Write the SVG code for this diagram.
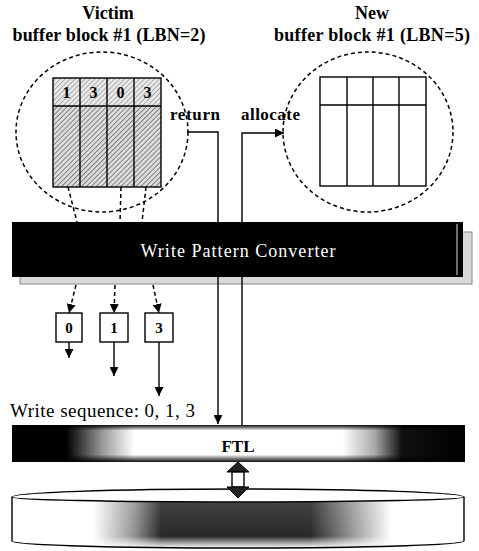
<svg xmlns="http://www.w3.org/2000/svg" width="479" height="551" viewBox="0 0 479 551">
<style>
.t{font-family:"Liberation Serif","Times New Roman",serif;fill:#000}
.b{font-weight:bold}
.dash{fill:none;stroke:#000;stroke-width:1.5;stroke-dasharray:4 3}
.ln{fill:none;stroke:#000;stroke-width:1.4}
.cell{fill:none;stroke:#000;stroke-width:1.4}
</style>
<defs>
<marker id="ah" viewBox="0 0 10 10" refX="10" refY="5" markerWidth="9" markerHeight="9" orient="auto" markerUnits="userSpaceOnUse">
<path d="M0,0 L10,5 L0,10 z" fill="#000"/>
</marker>
<pattern id="hatch" width="3.5" height="3.5" patternUnits="userSpaceOnUse" patternTransform="rotate(45)">
<rect width="3.5" height="3.5" fill="#dcdcdc"/>
<line x1="0" y1="0" x2="0" y2="3.5" stroke="#555" stroke-width="1.3"/>
</pattern>
<pattern id="hatch2" width="3.5" height="3.5" patternUnits="userSpaceOnUse" patternTransform="rotate(45)">
<rect width="3.5" height="3.5" fill="#e8e8e8"/>
<line x1="0" y1="0" x2="0" y2="3.5" stroke="#777" stroke-width="1"/>
</pattern>
<linearGradient id="ftlg" x1="0" y1="0" x2="1" y2="0">
<stop offset="0" stop-color="#000"/>
<stop offset="0.12" stop-color="#000"/>
<stop offset="0.2" stop-color="#999"/>
<stop offset="0.27" stop-color="#fff"/>
<stop offset="0.73" stop-color="#fff"/>
<stop offset="0.8" stop-color="#aaa"/>
<stop offset="0.86" stop-color="#111"/>
<stop offset="1" stop-color="#000"/>
</linearGradient>
<linearGradient id="ftlv" x1="0" y1="0" x2="0" y2="1">
<stop offset="0" stop-color="#000" stop-opacity="0.95"/>
<stop offset="0.15" stop-color="#000" stop-opacity="0"/>
<stop offset="0.8" stop-color="#000" stop-opacity="0"/>
<stop offset="1" stop-color="#000" stop-opacity="0.95"/>
</linearGradient>
<linearGradient id="diskg" x1="0" y1="0" x2="1" y2="0">
<stop offset="0" stop-color="#fff"/>
<stop offset="0.18" stop-color="#fff"/>
<stop offset="0.27" stop-color="#888"/>
<stop offset="0.33" stop-color="#111"/>
<stop offset="0.66" stop-color="#111"/>
<stop offset="0.75" stop-color="#888"/>
<stop offset="0.84" stop-color="#fff"/>
<stop offset="1" stop-color="#fff"/>
</linearGradient>
<linearGradient id="diskv" x1="0" y1="0" x2="0" y2="1">
<stop offset="0" stop-color="#fff" stop-opacity="1"/>
<stop offset="0.25" stop-color="#fff" stop-opacity="0.2"/>
<stop offset="0.8" stop-color="#fff" stop-opacity="0.1"/>
<stop offset="1" stop-color="#fff" stop-opacity="1"/>
</linearGradient>
</defs>
<rect width="479" height="551" fill="#fff"/>

<g id="title-victim">
<text class="t b" x="108" y="19" font-size="18" text-anchor="middle">Victim</text>
<text class="t b" x="109" y="41" font-size="18" text-anchor="middle" textLength="193">buffer block #1 (LBN=2)</text>
</g>
<g id="title-new">
<text class="t b" x="372" y="19" font-size="18" text-anchor="middle">New</text>
<text class="t b" x="372" y="41" font-size="18" text-anchor="middle" textLength="196">buffer block #1 (LBN=5)</text>
</g>

<g id="victim-block">
<ellipse class="dash" cx="102" cy="132" rx="86" ry="80"/>
<rect x="53" y="78" width="108" height="28" fill="url(#hatch2)"/>
<rect x="53" y="106" width="108" height="81" fill="url(#hatch)"/>
<rect class="cell" x="53" y="78" width="108" height="109"/>
<line class="cell" x1="53" y1="106" x2="161" y2="106"/>
<line class="cell" x1="80" y1="78" x2="80" y2="187"/>
<line class="cell" x1="107" y1="78" x2="107" y2="187"/>
<line class="cell" x1="134" y1="78" x2="134" y2="187"/>
<text class="t b" x="66.5" y="98" font-size="16" text-anchor="middle">1</text>
<text class="t b" x="93.5" y="98" font-size="16" text-anchor="middle">3</text>
<text class="t b" x="120.5" y="98" font-size="16" text-anchor="middle">0</text>
<text class="t b" x="147.5" y="98" font-size="16" text-anchor="middle">3</text>
</g>

<g id="new-block">
<ellipse class="dash" cx="368" cy="132" rx="85" ry="80"/>
<rect class="cell" x="320" y="77" width="106" height="109" fill="#fff"/>
<line class="cell" x1="320" y1="105" x2="426" y2="105"/>
<line class="cell" x1="347" y1="77" x2="347" y2="186"/>
<line class="cell" x1="373" y1="77" x2="373" y2="186"/>
<line class="cell" x1="399" y1="77" x2="399" y2="186"/>
</g>

<g id="labels">
<text class="t b" x="170" y="120" font-size="17" textLength="50">return</text>
<text class="t b" x="241" y="120" font-size="17" textLength="59">allocate</text>
</g>

<g id="write-pattern-converter">
<rect x="20" y="232" width="452" height="52" fill="#d9d9d9" stroke="#888" stroke-width="1"/>
<rect x="12" y="222" width="451" height="55" fill="#000"/>
<line x1="457" y1="224" x2="457" y2="275" stroke="#ddd" stroke-width="1"/>
<text x="238" y="257" font-size="18" text-anchor="middle" textLength="195" font-family="Liberation Serif, Times New Roman, serif" fill="#fff">Write Pattern Converter</text>
</g>

<g id="box0">
<rect class="cell" x="56" y="313" width="26" height="29" fill="#fff"/>
<text class="t b" x="69" y="333" font-size="15" text-anchor="middle">0</text>
</g>
<g id="box1">
<rect class="cell" x="100" y="313" width="28" height="29" fill="#fff"/>
<text class="t b" x="114" y="333" font-size="15" text-anchor="middle">1</text>
</g>
<g id="box3">
<rect class="cell" x="145" y="313" width="28" height="29" fill="#fff"/>
<text class="t b" x="159" y="333" font-size="15" text-anchor="middle">3</text>
</g>

<g id="write-sequence">
<text class="t" x="10" y="417" font-size="19" textLength="185">Write sequence: 0, 1, 3</text>
</g>

<g id="ftl">
<rect x="12" y="425" width="453" height="37" fill="url(#ftlg)"/>
<rect x="12" y="425" width="453" height="37" fill="url(#ftlv)"/>
<text class="t b" x="238" y="452" font-size="17" text-anchor="middle">FTL</text>
</g>

<g id="disk">
<path d="M12,497 L12,541 A226,7 0 0 0 464,541 L464,497 A226,8 0 0 0 12,497 Z" fill="url(#diskg)"/>
<path d="M12,497 L12,541 A226,7 0 0 0 464,541 L464,497 A226,8 0 0 0 12,497 Z" fill="url(#diskv)"/>
<path d="M12,497 A226,8 0 0 1 464,497 A226,5 0 0 1 12,497 Z" fill="#fff" stroke="#000" stroke-width="1.4"/>
<path d="M12,497 L12,541 A226,7 0 0 0 464,541 L464,497" fill="none" stroke="#000" stroke-width="1.4"/>
</g>

<g id="connectors">
<line class="dash" x1="68" y1="187" x2="77" y2="222"/>
<line class="dash" x1="121" y1="187" x2="120" y2="222"/>
<line class="dash" x1="146" y1="187" x2="142" y2="222"/>
<line class="dash" x1="76" y1="285" x2="69" y2="313" marker-end="url(#ah)"/>
<line class="dash" x1="115" y1="285" x2="114" y2="313" marker-end="url(#ah)"/>
<line class="dash" x1="153" y1="285" x2="159" y2="313" marker-end="url(#ah)"/>
<line class="ln" x1="69" y1="342" x2="69" y2="358" marker-end="url(#ah)"/>
<line class="ln" x1="114" y1="342" x2="114" y2="376" marker-end="url(#ah)"/>
<line class="ln" x1="159" y1="342" x2="159" y2="396" marker-end="url(#ah)"/>
<polyline class="ln" points="187,132 218,132 218,222"/>
<line class="ln" x1="218" y1="277" x2="218" y2="424" marker-end="url(#ah)"/>
<line class="ln" x1="242" y1="425" x2="242" y2="277"/>
<polyline class="ln" points="242,222 242,133 284,133" marker-end="url(#ah)"/>
<path d="M227,472 L238,462 L249,472 Z" fill="#222" stroke="#000" stroke-width="1"/>
<rect x="232" y="472" width="12" height="15" fill="#fff" stroke="#000" stroke-width="1.4"/>
<path d="M227,487 L238,498 L249,487 Z" fill="#222" stroke="#000" stroke-width="1"/>
</g>
</svg>
